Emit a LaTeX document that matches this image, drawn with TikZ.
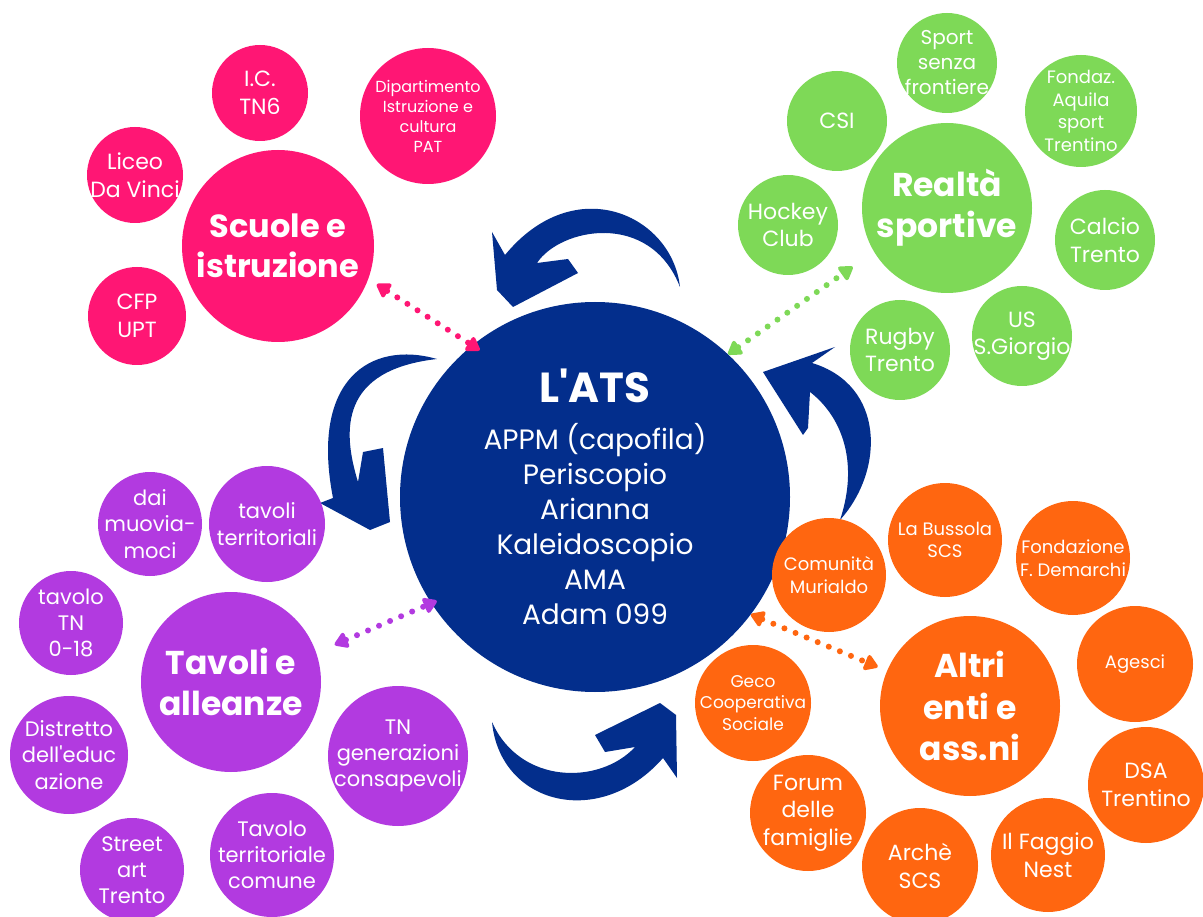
\documentclass[tikz,border=0pt]{standalone}
\usepackage{fontspec}
\setmainfont{Poppins}
\usetikzlibrary{arrows.meta}
\definecolor{ats-blue}{RGB}{3,46,140}
\definecolor{cus-pink}{RGB}{255,22,116}
\definecolor{cus-green}{RGB}{126,217,87}
\definecolor{cus-purple}{RGB}{178,58,224}
\definecolor{cus-orange}{RGB}{255,102,16}
\newcommand{\bubfont}[1]{\fontsize{#1}{\fpeval{1.25*#1}}\selectfont}

\begin{document}
\begin{tikzpicture}[x=1pt, y=-1pt,
	every label/.style={text=white, align=center, inner sep=0pt},
	bubble/.style 2 args={circle, fill=#1, inner sep=0pt, minimum size=#2},
	link/.style={color=#1, line width=6pt, line cap=round, dash pattern=on 0pt off 12pt,
		{Triangle[length=15pt,width=18pt,round]}-{Triangle[length=15pt,width=18pt,round]}}]
\path[use as bounding box, fill=white] (0,0) rectangle (1203,917);

% curved arrows round the ATS
\fill[ats-blue] (680,287) .. controls (672,215) and (575,170) .. (505,255) -- (492,232) -- (497,290) -- (513,307) -- (578,273) -- (568,259) -- (537,263) .. controls (560,228) and (650,210) .. (680,287) -- cycle;
\fill[ats-blue] (437,359) .. controls (370,340) and (310,380) .. (333,498) -- (320,503) -- (370,530) -- (390,522) -- (383,448) -- (363,452) -- (358,482) .. controls (342,430) and (340,370) .. (437,359) -- cycle;
\fill[ats-blue] (492,722) .. controls (500,805) and (600,830) .. (663,758) -- (677,778) -- (676,715) -- (660,703) -- (595,735) -- (605,752) -- (635,747) .. controls (600,785) and (520,785) .. (492,722) -- cycle;
\fill[ats-blue] (840,520) .. controls (885,470) and (885,385) .. (812,363) -- (835,347) -- (763,372) -- (768,380) -- (803,435) -- (808,428) -- (810,392) .. controls (840,415) and (860,460) .. (840,520) -- cycle;

% the ATS
\node[bubble={ats-blue}{390}, label={[font=\bubfont{28}]center:{\fontsize{42}{42}\selectfont\bfseries L\textquotesingle ATS}\\[12pt]APPM (capofila)\\Periscopio\\Arianna\\Kaleidoscopio\\AMA\\Adam 099}] (ats) at (595,497) {};

% hubs
\node[bubble={cus-pink}{192}, label={[font=\bubfont{32}\bfseries]center:Scuole e\\istruzione}] (scuole) at (278,246) {};
\node[bubble={cus-green}{170}, label={[font=\bubfont{33}\bfseries]center:Realtà\\sportive}] (realta) at (947,208) {};
\node[bubble={cus-purple}{180}, label={[font=\bubfont{33}\bfseries]center:Tavoli e\\alleanze}] (tavoli) at (231,682) {};
\node[bubble={cus-orange}{180}, label={[font=\bubfont{33}\bfseries]center:Altri\\enti e\\ass.ni}] (altri) at (970,706) {};

% satellites
\foreach \n/\x/\y/\d/\s/\t in {icn/260/93/96/22/{I.C.\\TN6}, dip/428/116/136/16/{Dipartimento\\Istruzione e\\cultura\\PAT},
	liceo/135/175/96/22/{Liceo\\Da Vinci}, cfp/137/316/98/22/{CFP\\UPT}}
	\node[bubble={cus-pink}{\d}, label={[font=\bubfont{\s}]center:\t}] (\n) at (\x,\y) {};
\foreach \n/\x/\y/\d/\s/\t in {sport/947/63/100/20/{Sport\\senza\\frontiere}, csi/837/121/100/22/{CSI},
	aquila/1081/111/112/18/{Fondaz.\\Aquila\\sport\\Trentino}, hockey/788/225/100/22/{Hockey\\Club},
	calcio/1105/240/100/22/{Calcio\\Trento}, sgiorgio/1022/336/100/22/{US\\S.Giorgio}, rugby/900/350/100/22/{Rugby\\Trento}}
	\node[bubble={cus-green}{\d}, label={[font=\bubfont{\s}]center:\t}] (\n) at (\x,\y) {};
\foreach \n/\x/\y/\d/\s/\t in {muovi/150/524/104/21/{dai\\muovia-\\moci}, terr/267/524/116/21/{tavoli\\territoriali},
	tn/71/623/104/21/{tavolo\\TN\\0-18}, distretto/69/755/118/21/{Distretto\\dell\textquotesingle educ\\azione},
	tngen/398/756/140/21/{TN\\generazioni\\consapevoli}, street/132/870/104/21/{Street\\art\\Trento},
	comune/272/855/124/21/{Tavolo\\territoriale\\comune}}
	\node[bubble={cus-purple}{\d}, label={[font=\bubfont{\s}]center:\t}] (\n) at (\x,\y) {};
\foreach \n/\x/\y/\d/\s/\t in {murialdo/829/575/114/18/{Comunità\\Murialdo}, bussola/945/540/114/18/{La Bussola\\SCS},
	demarchi/1073/558/114/18/{Fondazione\\F. Demarchi}, agesci/1135/664/116/18/{Agesci},
	geco/753/703/116/17/{Geco\\Cooperativa\\Sociale}, dsa/1146/785/116/22/{DSA\\Trentino},
	forum/808/813/116/22/{Forum\\delle\\famiglie}, arche/920/866/116/22/{Archè\\SCS}, faggio/1048/855/114/22/{Il Faggio\\Nest}}
	\node[bubble={cus-orange}{\d}, label={[font=\bubfont{\s}]center:\t}] (\n) at (\x,\y) {};

% links
\draw[link=cus-pink, shorten <=10pt, shorten >=-9pt] (scuole.-20) -- (ats.129);
\draw[link=cus-green, shorten >=26pt] (ats.47) -- (realta.211);
\draw[link=cus-purple, shorten <=20pt, shorten >=-6pt] (tavoli.19) -- (ats.213);
\draw[link=cus-orange, shorten >=10pt] (ats.-37) -- (altri.157);
\end{tikzpicture}
\end{document}
